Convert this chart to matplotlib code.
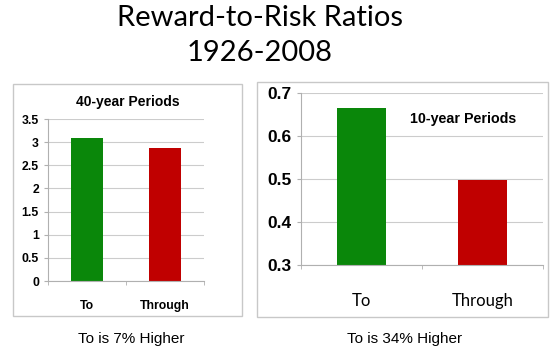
import matplotlib.pyplot as plt
from matplotlib.patches import Rectangle

# Reward-to-risk ratios, "To" vs "Through", two holding periods
categories = ["To", "Through"]
ratios_40yr = [3.08, 2.88]
ratios_10yr = [0.665, 0.498]
colors = ["#0a870a", "#c00000"]

W, H = 554, 355
fig = plt.figure(figsize=(W / 100, H / 100), dpi=100)
fig.patch.set_facecolor("white")

def px_axes(x0, y0, x1, y1):
    return fig.add_axes([x0 / W, (H - y1) / H, (x1 - x0) / W, (y1 - y0) / H])

def px_box(x0, y0, x1, y1):
    fig.patches.append(Rectangle((x0 / W, (H - y1) / H), (x1 - x0) / W, (y1 - y0) / H,
                                 transform=fig.transFigure, fill=False,
                                 edgecolor="#c8c8c8", linewidth=1.0))

def style_axes(ax):
    for s in ["top", "right"]:
        ax.spines[s].set_visible(False)
    for s in ["left", "bottom"]:
        ax.spines[s].set_color("#b0b0b0")
        ax.spines[s].set_linewidth(0.8)
    ax.yaxis.grid(True, color="#cccccc", linewidth=0.8)
    ax.set_axisbelow(True)
    ax.tick_params(axis="y", colors="#b0b0b0", length=3, labelcolor="black")
    ax.tick_params(axis="x", length=0, labelcolor="black")
    ax.set_xlim(-0.5, 1.5)
    ax.set_xticks([-0.5, 0.5, 1.5], minor=True)
    ax.tick_params(axis="x", which="minor", length=3, colors="#b0b0b0")

# title
fig.text(260 / W, 1 - 18 / H, "Reward-to-Risk Ratios", ha="center", va="center",
         fontsize=21, family="Lato")
fig.text(260 / W, 1 - 53 / H, "1926-2008", ha="center", va="center",
         fontsize=21, family="Lato")

# left panel: 40-year periods
px_box(13, 84, 242, 316)
ax1 = px_axes(48, 119, 204, 281)
style_axes(ax1)
ax1.bar(range(len(categories)), ratios_40yr, width=0.4, color=colors)
ax1.set_ylim(0, 3.5)
ax1.set_yticks([0, 0.5, 1, 1.5, 2, 2.5, 3, 3.5])
ax1.set_yticklabels(["0", "0.5", "1", "1.5", "2", "2.5", "3", "3.5"],
                    fontsize=8.8, fontweight="bold", family="Liberation Sans")
ax1.set_xticks(range(len(categories)))
ax1.set_xticklabels(categories, fontsize=8.8, fontweight="bold", family="Liberation Sans")
ax1.tick_params(axis="x", pad=14)
fig.text(128 / W, 1 - 102 / H, "40-year Periods", ha="center", va="center",
         fontsize=10, fontweight="bold", family="Liberation Sans")
fig.text(131 / W, 1 - 339 / H, "To is 7% Higher", ha="center", va="center",
         fontsize=11, family="Liberation Sans")

# right panel: 10-year periods
px_box(257, 82, 548, 317)
ax2 = px_axes(301, 93, 543, 265)
style_axes(ax2)
ax2.bar(range(len(categories)), [v - 0.3 for v in ratios_10yr], bottom=0.3,
        width=0.4, color=colors)
ax2.set_ylim(0.3, 0.7)
ax2.set_yticks([0.3, 0.4, 0.5, 0.6, 0.7])
ax2.set_yticklabels(["0.3", "0.4", "0.5", "0.6", "0.7"],
                    fontsize=12.5, fontweight="bold", family="Liberation Sans")
ax2.set_xticks(range(len(categories)))
ax2.set_xticklabels(categories, fontsize=12, family="Lato")
ax2.tick_params(axis="x", pad=20)
fig.text(463 / W, 1 - 119 / H, "10-year Periods", ha="center", va="center",
         fontsize=10.3, fontweight="bold", family="Liberation Sans")
fig.text(405 / W, 1 - 339 / H, "To is 34% Higher", ha="center", va="center",
         fontsize=11, family="Liberation Sans")

fig.savefig("out.png", dpi=100)
